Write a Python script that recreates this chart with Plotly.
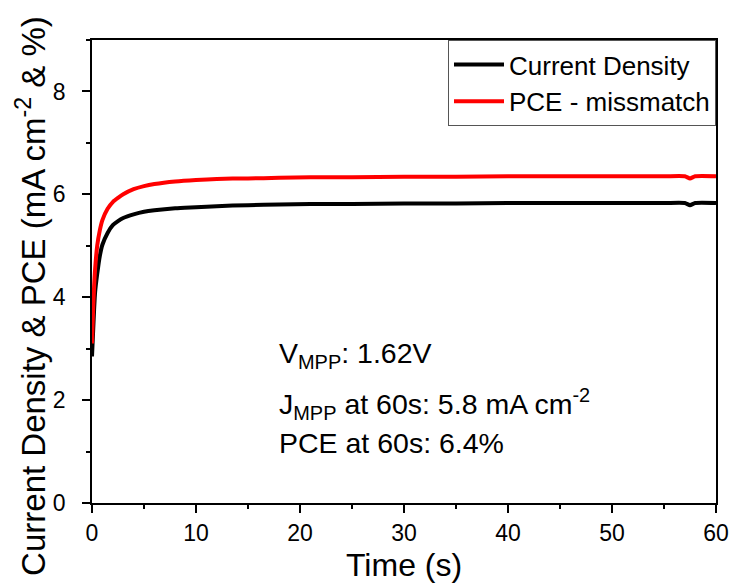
import plotly.graph_objects as go

time_s = [0, 0.1, 0.2, 0.3, 0.5, 0.75, 1, 1.5, 2, 2.5, 3, 4, 5, 6, 8, 10, 12, 15, 18, 21,
          25, 30, 35, 40, 45, 50, 55, 57, 57.5, 58, 60]
current_density = [2.85, 3.3, 3.75, 4.1, 4.45, 4.8, 5.02, 5.25, 5.4, 5.48, 5.54, 5.61, 5.66, 5.69,
                   5.73, 5.75, 5.77, 5.79, 5.80, 5.81, 5.81, 5.82, 5.82, 5.83, 5.83, 5.83, 5.83,
                   5.83, 5.79, 5.83, 5.83]
pce = [3.1, 3.7, 4.2, 4.55, 5.0, 5.3, 5.5, 5.72, 5.85, 5.93, 6.0, 6.1, 6.16, 6.2, 6.25, 6.28,
       6.3, 6.31, 6.32, 6.33, 6.33, 6.34, 6.34, 6.35, 6.35, 6.35, 6.35, 6.35, 6.31, 6.35, 6.35]

x_ticks = [0, 10, 20, 30, 40, 50, 60]
y_ticks = [0, 2, 4, 6, 8]

FONT = "Liberation Sans, Arial, sans-serif"

fig = go.Figure()
fig.add_trace(go.Scatter(x=time_s, y=current_density, mode="lines", name="Current Density",
                         line=dict(color="black", width=4, shape="spline", smoothing=0.6)))
fig.add_trace(go.Scatter(x=time_s, y=pce, mode="lines", name="PCE - missmatch",
                         line=dict(color="#ff0000", width=4, shape="spline", smoothing=0.6)))

axis_common = dict(showline=True, linecolor="black", linewidth=1.5, mirror=True,
                   ticks="outside", ticklen=8, tickwidth=1.5, tickcolor="black",
                   showgrid=False, zeroline=False, automargin=False,
                   tickfont=dict(family=FONT, size=23, color="black"))

fig.update_xaxes(range=[0, 60], tickvals=x_ticks, ticklabelstandoff=1,
                 minor=dict(ticks="outside", ticklen=4, tickwidth=1.5, tickcolor="black", dtick=5),
                 **axis_common)
fig.update_yaxes(range=[0, 9], tickvals=y_ticks, ticklabelstandoff=12,
                 minor=dict(ticks="outside", ticklen=4, tickwidth=1.5, tickcolor="black", dtick=1),
                 **axis_common)

# axis titles (placed as paper annotations to match the reference offsets)
fig.add_annotation(text="Time (s)", xref="paper", yref="paper", x=0.5, y=-0.134,
                   xanchor="center", yanchor="middle", showarrow=False,
                   font=dict(family=FONT, size=32, color="black"))
fig.add_annotation(text="Current Density & PCE (mA cm<sup>-2</sup> & %)", textangle=-90,
                   xref="paper", yref="paper", x=-0.098, y=0.447,
                   xanchor="center", yanchor="middle", showarrow=False,
                   font=dict(family=FONT, size=33, color="black"))

ann_font = dict(family=FONT, size=28.5, color="black")
for txt, yv in [("V<sub>MPP</sub>: 1.62V", 2.87),
                ("J<sub>MPP</sub> at 60s: 5.8 mA cm<sup>-2</sup>", 1.93),
                ("PCE at 60s: 6.4%", 1.16)]:
    fig.add_annotation(x=17.8, y=yv, xref="x", yref="y", text=txt, showarrow=False,
                       xanchor="left", yanchor="middle", font=ann_font)

fig.update_layout(
    width=732, height=587,
    margin=dict(l=92, r=16, t=40, b=84),
    paper_bgcolor="white", plot_bgcolor="white",
    showlegend=True,
    legend=dict(x=1, y=1, xanchor="right", yanchor="top", bgcolor="white",
                bordercolor="#555555", borderwidth=1,
                font=dict(family=FONT, size=26, color="black"),
                tracegroupgap=0, itemwidth=50),
)

fig.write_html("out.html")
